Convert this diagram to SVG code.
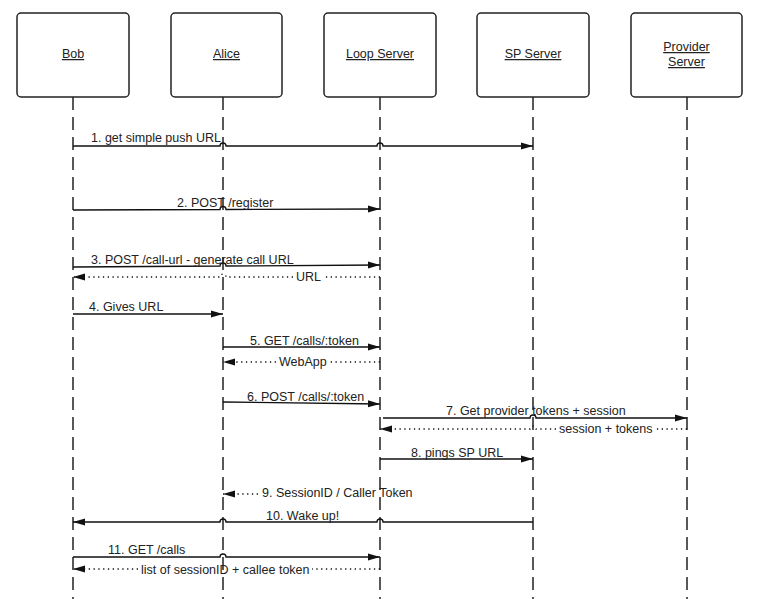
<svg xmlns="http://www.w3.org/2000/svg" width="761" height="599" viewBox="0 0 761 599">
<style>
  .box{fill:#fff;stroke:#222;stroke-width:1.5}
  .name{font-family:"Liberation Sans",Arial,sans-serif;font-size:12.5px;fill:#222;text-anchor:middle;text-decoration:underline}
  .life{stroke:#222;stroke-width:1.5;stroke-dasharray:13 7;fill:none}
  .msg{stroke:#111;stroke-width:1.3;fill:none}
  .ret{stroke:#111;stroke-width:1.3;fill:none;stroke-dasharray:1.3 3.5}
  .lbl{font-family:"Liberation Sans",Arial,sans-serif;font-size:12.5px;fill:#222}
</style>
<defs>
  <marker id="arr" markerUnits="userSpaceOnUse" markerWidth="12" markerHeight="8" refX="12" refY="4" orient="auto">
    <path d="M0,0.5 L12,4 L0,7.5 z" fill="#111"/>
  </marker>
</defs>
<rect width="761" height="599" fill="#fff"/>
<g id="lifelines">
  <line class="life" x1="73" y1="97" x2="73" y2="599"/>
  <line class="life" x1="223" y1="97" x2="223" y2="599"/>
  <line class="life" x1="380" y1="97" x2="380" y2="599"/>
  <line class="life" x1="533" y1="97" x2="533" y2="599"/>
  <line class="life" x1="687" y1="97" x2="687" y2="599"/>
</g>
<g id="bob"><rect class="box" x="17" y="13" width="112" height="84" rx="4"/><text class="name" x="73" y="58">Bob</text></g>
<g id="alice"><rect class="box" x="171" y="13" width="111" height="84" rx="4"/><text class="name" x="226.5" y="58">Alice</text></g>
<g id="loop"><rect class="box" x="324" y="13" width="112" height="84" rx="4"/><text class="name" x="380" y="58">Loop Server</text></g>
<g id="sp"><rect class="box" x="477" y="13" width="112" height="84" rx="4"/><text class="name" x="533" y="58">SP Server</text></g>
<g id="provider"><rect class="box" x="631" y="13" width="111" height="84" rx="4"/><text class="name" x="686.5" y="51">Provider</text><text class="name" x="686.5" y="66">Server</text></g>
<g id="connectors">
  <path class="msg" marker-end="url(#arr)" d="M73 146 L220 146 A3 3 0 0 1 226 146 L377 146 A3 3 0 0 1 383 146 L533 146"/>
  <path class="msg" marker-end="url(#arr)" d="M73 210 L220 209.5 A3 3 0 0 1 226 209.5 L380 209"/>
  <path class="msg" marker-end="url(#arr)" d="M73 267 L220 266 A3 3 0 0 1 226 266 L380 265"/>
  <path class="ret" marker-end="url(#arr)" d="M380 277 L324 277 M293 277 L226 277 A3 3 0 0 0 220 277 L73 277"/>
  <path class="msg" marker-end="url(#arr)" d="M73 314 L223 314"/>
  <path class="msg" marker-end="url(#arr)" d="M223 347 L380 347"/>
  <path class="ret" marker-end="url(#arr)" d="M380 362 L329 362 M276 362 L223 362"/>
  <path class="msg" marker-end="url(#arr)" d="M223 402 L380 404"/>
  <path class="msg" marker-end="url(#arr)" d="M383 418 L530 418 A3 3 0 0 1 536 418 L687 418"/>
  <path class="ret" marker-end="url(#arr)" d="M687 429 L655 429 M556 429 L536 429 A3 3 0 0 0 530 429 L380 429"/>
  <path class="msg" marker-end="url(#arr)" d="M380 459 L533 459"/>
  <path class="ret" marker-end="url(#arr)" d="M258 494 L223 494"/>
  <path class="msg" marker-end="url(#arr)" d="M533 522 L383 522 A3 3 0 0 0 377 522 L226 522 A3 3 0 0 0 220 522 L73 522"/>
  <path class="msg" marker-end="url(#arr)" d="M73 557 L220 557 A3 3 0 0 1 226 557 L380 557"/>
  <path class="ret" marker-end="url(#arr)" d="M380 569 L312 569 M138 569 L73 569"/>
</g>
<g id="labels">
  <text class="lbl" x="91" y="142">1. get simple push URL</text>
  <text class="lbl" x="177" y="206.5">2. POST /register</text>
  <text class="lbl" x="91" y="263.5">3. POST /call-url - generate call URL</text>
  <text class="lbl" x="296" y="281">URL</text>
  <text class="lbl" x="89" y="311">4. Gives URL</text>
  <text class="lbl" x="250" y="345">5. GET /calls/:token</text>
  <text class="lbl" x="279" y="366">WebApp</text>
  <text class="lbl" x="247" y="401">6. POST /calls/:token</text>
  <text class="lbl" x="446" y="415">7. Get provider tokens + session</text>
  <text class="lbl" x="559" y="433">session + tokens</text>
  <text class="lbl" x="411" y="457">8. pings SP URL</text>
  <text class="lbl" x="262" y="497">9. SessionID / Caller Token</text>
  <text class="lbl" x="266" y="520">10. Wake up!</text>
  <text class="lbl" x="108" y="554">11. GET /calls</text>
  <text class="lbl" x="141" y="574">list of sessionID + callee token</text>
</g>
</svg>
